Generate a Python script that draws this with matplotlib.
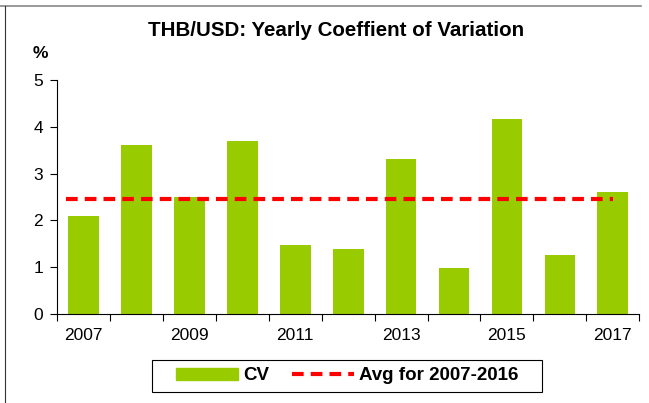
import numpy as np
import matplotlib.pyplot as plt
from matplotlib.lines import Line2D
from matplotlib.patches import Patch, Rectangle

years = ["2007", "2008", "2009", "2010", "2011", "2012", "2013", "2014", "2015", "2016", "2017"]
cv = [2.09, 3.61, 2.50, 3.70, 1.47, 1.39, 3.31, 0.98, 4.17, 1.26, 2.61]
avg_2007_2016 = 2.45

plt.rcParams['font.family'] = ['Liberation Sans', 'DejaVu Sans']

fig = plt.figure(figsize=(6.49, 4.03), dpi=100)
ax = fig.add_axes([0.088, 0.221, 0.897, 0.58])

dash = (0, (2.8, 1.7))
x = np.arange(len(years))
ax.bar(x, cv, width=0.58, color="#99cc00", zorder=2)
ax.plot([-0.33, 10], [avg_2007_2016, avg_2007_2016], color="red", lw=3,
        linestyle=dash, zorder=3)

ax.set_xlim(-0.5, len(years) - 0.5)
ax.set_ylim(0, 5)
ax.set_yticks([0, 1, 2, 3, 4, 5])
ax.set_xticks(x[::2])
ax.set_xticklabels(years[::2])
ax.set_xticks(np.arange(-0.5, len(years)), minor=True)
ax.tick_params(axis="x", which="major", length=0, labelsize=12.5, pad=10)
ax.tick_params(axis="x", which="minor", length=5, width=0.8)
ax.tick_params(axis="y", length=5, width=0.8, labelsize=12.5, pad=5)
for s in ["top", "right"]:
    ax.spines[s].set_visible(False)
for s in ["left", "bottom"]:
    ax.spines[s].set_linewidth(0.8)

fig.text(0.518, 0.925, "THB/USD: Yearly Coeffient of Variation", ha="center",
         va="center", fontsize=14.8, fontweight="bold")
fig.text(0.062, 0.868, "%", ha="center", va="center", fontsize=12.5, fontweight="bold")

handles = [Patch(color="#99cc00"),
           Line2D([0], [0], color="red", lw=3, linestyle=dash)]
leg = fig.legend(handles, ["CV", "Avg for 2007-2016"], loc="center",
                 bbox_to_anchor=(0.535, 0.067), ncol=2, frameon=False,
                 handlelength=3.3, handleheight=0.6, handletextpad=0.3,
                 columnspacing=1.2, borderpad=0.2,
                 prop={"weight": "bold", "size": 13.5})
fig.add_artist(Rectangle((152 / 649, 1 - 392 / 403), 390 / 649, 32 / 403,
                         transform=fig.transFigure, fill=False,
                         edgecolor="black", lw=0.8))

# screenshot frame
fig.add_artist(Line2D([0, 0.987], [0.985, 0.985], color="#888888", lw=1.2))
fig.add_artist(Line2D([0.007, 0.007], [0, 0.985], color="#333333", lw=0.8))

fig.savefig("out.png", dpi=100)
